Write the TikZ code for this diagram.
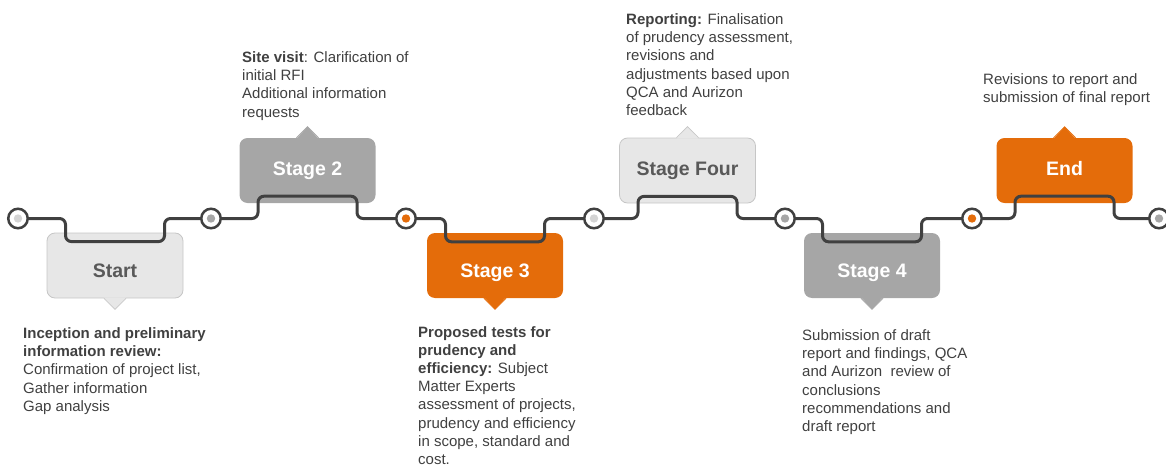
\documentclass[tikz,border=0pt]{standalone}
\usepackage{fontspec}
\setmainfont{Liberation Sans}
\usetikzlibrary{calc,positioning}
\definecolor{trackgray}{HTML}{404040}
\definecolor{textgray}{HTML}{404040}
\definecolor{boxlight}{HTML}{E7E7E7}
\definecolor{boxline}{HTML}{C6C6C6}
\definecolor{boxgray}{HTML}{A6A6A6}
\definecolor{boxorange}{HTML}{E46C0A}
\definecolor{dotlight}{HTML}{D4D4D4}

\tikzset{
    stagebox/.style={rounded corners=8pt, minimum width=136pt, minimum height=65pt, inner sep=0pt,
        font=\bfseries\fontsize{19.5}{22}\selectfont},
    lowbox/.style={stagebox, text height=23pt, text depth=0pt},
    highbox/.style={stagebox, text height=14pt, text depth=5pt},
    marker/.style={circle, draw=trackgray, line width=2.5pt, fill=white, minimum size=19.5pt, inner sep=0pt,
        path picture={\fill[#1] (path picture bounding box.center) circle (4.2pt);}},
    track/.style={draw=trackgray, line width=3pt, rounded corners=6pt},
    desc/.style={anchor=north west, inner sep=0pt, align=left, text=textgray,
        font=\fontsize{15}{18.2}\selectfont}
}

\begin{document}
\begin{tikzpicture}[x=1pt,y=-1pt]
    \useasboundingbox (0,0) rectangle (1166,468);

    % stage boxes
    \node[lowbox, fill=boxlight, draw=boxline, line width=0.8pt, text=black!65] (start) at (115,265.5) {Start};
    \node[highbox, fill=boxgray, text=white] (stage2) at (307.5,170.5) {Stage 2};
    \node[lowbox, fill=boxorange, text=white] (stage3) at (495,265.5) {Stage 3};
    \node[highbox, fill=boxlight, draw=boxline, line width=0.8pt, text=black!65] (stagefour) at (687.5,170.5) {Stage Four};
    \node[lowbox, fill=boxgray, text=white] (stage4) at (872,265.5) {Stage 4};
    \node[highbox, fill=boxorange, text=white] (end) at (1064.5,170.5) {End};

    % pointers
    \foreach \n/\c/\d in {start/boxlight/boxline, stage3/boxorange/boxorange, stage4/boxgray/boxgray} {
        \fill[\c] ($(\n.south)+(-11,-1)$) -- ++(11,12) -- ++(11,-12) -- cycle;
        \draw[\d, line width=0.8pt] ($(\n.south)+(-11,0)$) -- ++(11,11) -- ++(11,-11);
    }
    \foreach \n/\c/\d in {stage2/boxgray/boxgray, stagefour/boxlight/boxline, end/boxorange/boxorange} {
        \fill[\c] ($(\n.north)+(-11,1)$) -- ++(11,-12) -- ++(11,12) -- cycle;
        \draw[\d, line width=0.8pt] ($(\n.north)+(-11,0)$) -- ++(11,-11) -- ++(11,11);
    }

    % markers on the timeline
    \node[marker=dotlight] (m1) at (18,218.5) {};
    \node[marker=boxgray] (m2) at (211,218.5) {};
    \node[marker=boxorange] (m3) at (406,218.5) {};
    \node[marker=dotlight] (m4) at (594,218.5) {};
    \node[marker=boxgray] (m5) at (785,218.5) {};
    \node[marker=boxorange] (m6) at (972,218.5) {};
    \node[marker=boxgray] (m7) at (1159,218.5) {};

    % timeline
    \draw[track] (m1) -| ($(start.north)+(-49.5,9)$) -- ($(start.north)+(49.5,9)$) |- (m2);
    \draw[track] (m2) -| ($(stage2.south)+(-49.5,-7)$) -- ($(stage2.south)+(49.5,-7)$) |- (m3);
    \draw[track] (m3) -| ($(stage3.north)+(-49.5,9)$) -- ($(stage3.north)+(49.5,9)$) |- (m4);
    \draw[track] (m4) -| ($(stagefour.south)+(-49.5,-7)$) -- ($(stagefour.south)+(49.5,-7)$) |- (m5);
    \draw[track] (m5) -| ($(stage4.north)+(-49.5,9)$) -- ($(stage4.north)+(49.5,9)$) |- (m6);
    \draw[track] (m6) -| ($(end.south)+(-49.5,-7)$) -- ($(end.south)+(49.5,-7)$) |- (m7);

    % descriptions
    \node[desc] (t-start) at (23,327.5) {\textbf{Inception and preliminary}\\\textbf{information review:}\\Confirmation of project list,\\Gather information\\Gap analysis};
    \node[desc] (t-stage2) at (242,51.5) {\textbf{Site visit}: Clarification of\\initial RFI\\Additional information\\requests};
    \node[desc] (t-stage3) at (418,326) {\textbf{Proposed tests for}\\\textbf{prudency and}\\\textbf{efficiency:} Subject\\Matter Experts\\assessment of projects,\\prudency and efficiency\\in scope, standard and\\cost.};
    \node[desc] (t-stagefour) at (626,13.5) {\textbf{Reporting:} Finalisation\\of prudency assessment,\\revisions and\\adjustments based upon\\QCA and Aurizon\\feedback};
    \node[desc] (t-stage4) at (802,329.5) {Submission of draft\\report and findings, QCA\\and Aurizon~ review of\\conclusions\\recommendations and\\draft report};
    \node[desc] (t-end) at (983,73.5) {Revisions to report and\\submission of final report};
\end{tikzpicture}
\end{document}
